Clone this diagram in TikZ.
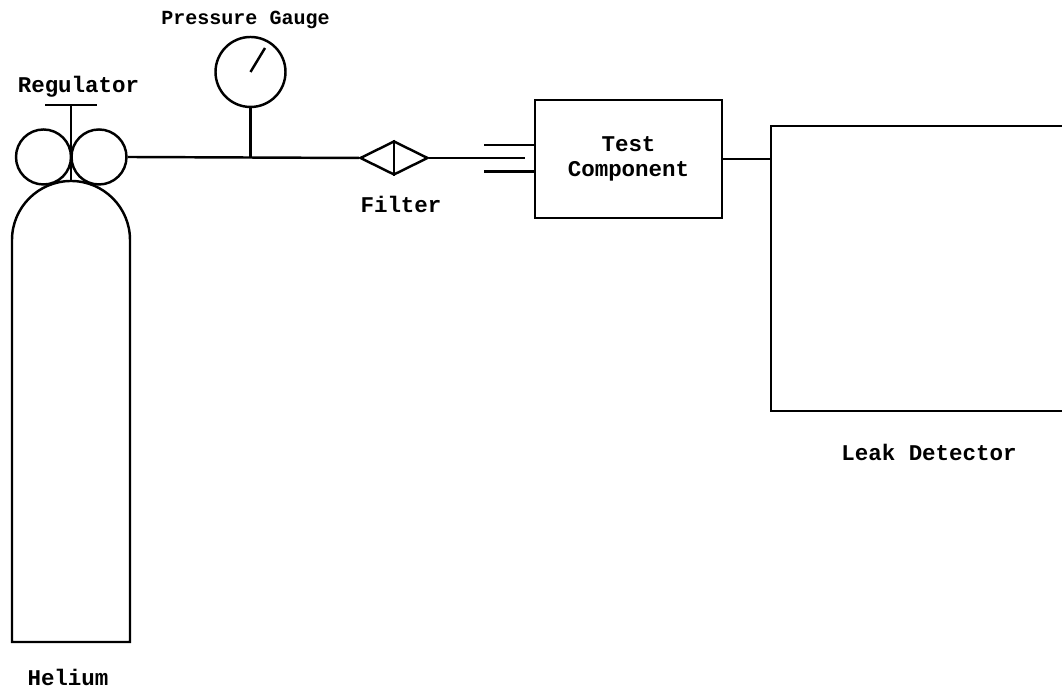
\documentclass[tikz,border=0pt]{standalone}
\usepackage{fontspec}
\setmonofont{Liberation Mono}
\usetikzlibrary{shapes.geometric}
\begin{document}
\begin{tikzpicture}[line width=0.7pt,
		lbl/.style={font=\ttfamily\bfseries\fontsize{6.4}{7.1}\selectfont, inner sep=0},
		ball/.style={draw, circle, inner sep=0, minimum size=0.55cm}]
	\useasboundingbox (0,0) rectangle (10.62,6.88);
	\clip (0,0) rectangle (10.62,6.88);
	% Tank
	\draw (0.12,0.46) -- (0.12,4.48) arc[start angle=180, end angle=0, radius=0.59] -- (1.30,0.46) -- cycle;
	\coordinate (tanktop) at (0.71,5.07);
	% Regulator
	\node[ball] (regleft) at (0.435,5.31) {};
	\node[ball] (regright) at (0.99,5.31) {};
	\coordinate (barleft) at (0.45,5.83);
	\coordinate (barright) at (0.97,5.83);
	\coordinate (barmid) at (0.71,5.83);
	\draw (barleft) -- (barright);
	\draw (barmid) -- (tanktop);
	% Gauge
	\node[draw, circle, inner sep=0, minimum size=0.70cm] (gauge) at (2.505,6.16) {};
	\coordinate (needle) at (2.65,6.40);
	\draw (gauge.center) -- (needle);
	% Filter and line
	\node[draw, diamond, inner sep=0, minimum width=0.68cm, minimum height=0.34cm] (filter) at (3.94,5.30) {};
	\draw (filter.north) -- (filter.south);
	\coordinate (tee) at (2.505,5.30);
	\draw (regright.east) -- (filter.west);
	\draw (gauge.south) -- (tee);
	% Test box
	\node[draw, lbl, align=center, minimum width=1.87cm, minimum height=1.18cm] (test) at (6.285,5.29) {Test\\Component};
	\coordinate (probe) at (5.25,5.30);
	\coordinate (prongup) at (4.84,5.43);
	\coordinate (prongdown) at (4.84,5.165);
	\draw (filter.east) -- (probe);
	\draw (prongup) -- (prongup -| test.west);
	\draw (prongdown) -- (prongdown -| test.west);
	% Detector runs off the page
	\node[draw, minimum width=3.00cm, minimum height=2.85cm] (detector) at (9.21,4.195) {};
	\draw (test.east) -- (test.east -| detector.west);
	% Labels
	\node[lbl, font=\ttfamily\bfseries\fontsize{5.7}{7}\selectfont] (gaugelbl) at (2.455,6.68) {Pressure Gauge};
	\node[lbl] (reglbl) at (0.785,6.01) {Regulator};
	\node[lbl] (filterlbl) at (4.01,4.84) {Filter};
	\node[lbl] (detectorlbl) at (9.29,2.36) {Leak Detector};
	\node[lbl] (tanklbl) at (0.68,0.11) {Helium};
\end{tikzpicture}
\end{document}
